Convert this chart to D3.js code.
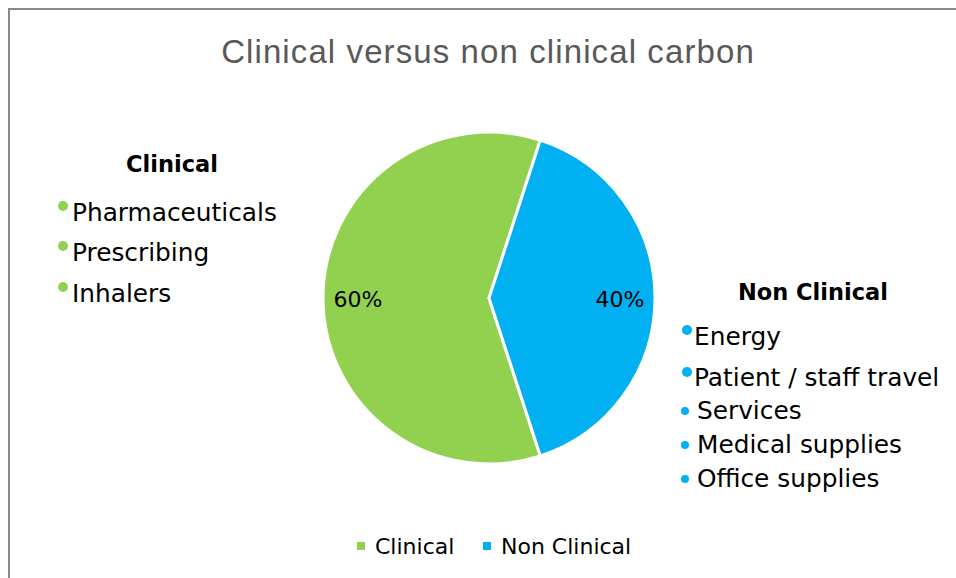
<!DOCTYPE html>
<html lang="en">
<head>
<meta charset="utf-8">
<title>Clinical versus non clinical carbon</title>
<script src="https://cdn.jsdelivr.net/npm/d3@7"></script>
<style>
  body { margin: 0; background: #fff; }
  svg { display: block; }
</style>
</head>
<body>
<script>
// chart data
var categories = ["Clinical", "Non Clinical"];
var values = [60, 40];
var colors = ["#92D050", "#00B0F0"];
var clinicalItems = ["Pharmaceuticals", "Prescribing", "Inhalers"];
var nonClinicalItems = ["Energy", "Patient / staff travel", "Services", "Medical supplies", "Office supplies"];

var w = 956, h = 578;
var cx = 489, cy = 298, radius = 166;

var svg = d3.select("body").append("svg")
    .attr("width", w)
    .attr("height", h);

// chart area border (only top and left are inside the window)
svg.append("rect")
    .attr("x", 9).attr("y", 9)
    .attr("width", w + 20).attr("height", h + 20)
    .attr("fill", "#fff")
    .attr("stroke", "#898989")
    .attr("stroke-width", 2);

// title
svg.append("text")
    .attr("x", 488).attr("y", 63)
    .attr("text-anchor", "middle")
    .attr("font-family", "Liberation Sans, Arial, sans-serif")
    .attr("font-size", "33px")
    .attr("letter-spacing", "1.1px")
    .attr("fill", "#595959")
    .text("Clinical versus non clinical carbon");

// pie: Excel style rotation, clinical slice starts at 162 degrees
var startDeg = 162;
var pie = d3.pie()
    .sort(null)
    .value(function(d) { return d; })
    .startAngle(startDeg * Math.PI / 180)
    .endAngle((startDeg + 360) * Math.PI / 180);

var arc = d3.arc().innerRadius(0).outerRadius(radius);
var labelArc = d3.arc().innerRadius(131).outerRadius(131);

var g = svg.append("g").attr("transform", "translate(" + cx + "," + cy + ")");

g.selectAll("path")
    .data(pie(values))
    .enter()
    .append("path")
    .attr("d", arc)
    .attr("fill", function(d, i) { return colors[i]; })
    .attr("stroke", "#fff")
    .attr("stroke-width", 3)
    .attr("stroke-linejoin", "round");

var total = d3.sum(values);
g.selectAll("text.pct")
    .data(pie(values))
    .enter()
    .append("text")
    .attr("class", "pct")
    .attr("transform", function(d) { return "translate(" + labelArc.centroid(d) + ")"; })
    .attr("dy", "0.4em")
    .attr("text-anchor", "middle")
    .attr("font-family", "DejaVu Sans, sans-serif")
    .attr("font-size", "22px")
    .attr("fill", "#000")
    .text(function(d) { return Math.round(d.data / total * 100) + "%"; });

// text boxes with bullet lists
function bulletBox(title, items, color, titleX, titleY, bulletX, textX, baselines, radii, offsets) {
    svg.append("text")
        .attr("x", titleX).attr("y", titleY)
        .attr("text-anchor", "middle")
        .attr("font-family", "DejaVu Sans, sans-serif")
        .attr("font-weight", "bold")
        .attr("font-size", "22.5px")
        .attr("fill", "#000")
        .text(title);

    var rows = svg.selectAll(null)
        .data(items)
        .enter()
        .append("g");

    rows.append("circle")
        .attr("cx", function(d, i) { return bulletX[i]; })
        .attr("cy", function(d, i) { return baselines[i] - offsets[i]; })
        .attr("r", function(d, i) { return radii[i]; })
        .attr("fill", color);

    rows.append("text")
        .attr("x", function(d, i) { return textX[i]; })
        .attr("y", function(d, i) { return baselines[i]; })
        .attr("font-family", "DejaVu Sans, sans-serif")
        .attr("font-size", "24.8px")
        .attr("fill", "#000")
        .text(function(d) { return d; });
}

bulletBox("Clinical", clinicalItems, colors[0], 172, 172,
    [63, 63, 63], [72, 72, 72], [221, 261, 302],
    [5, 5, 5], [15, 15, 15]);

bulletBox("Non Clinical", nonClinicalItems, colors[1], 813, 300,
    [687, 687, 685, 685, 685], [694, 694, 697, 697, 697], [345, 386, 419, 453, 487],
    [5, 5, 4, 4, 4], [15, 14, 8, 8, 8]);

// legend
var legendX = [357, 483];
var legend = svg.selectAll("g.legend")
    .data(categories)
    .enter()
    .append("g")
    .attr("class", "legend")
    .attr("transform", function(d, i) { return "translate(" + legendX[i] + ",542)"; });

legend.append("rect")
    .attr("width", 8).attr("height", 8)
    .attr("fill", function(d, i) { return colors[i]; });

legend.append("text")
    .attr("x", 18).attr("y", 12)
    .attr("font-family", "DejaVu Sans, sans-serif")
    .attr("font-size", "22px")
    .attr("fill", "#000")
    .text(function(d) { return d; });
</script>
</body>
</html>
